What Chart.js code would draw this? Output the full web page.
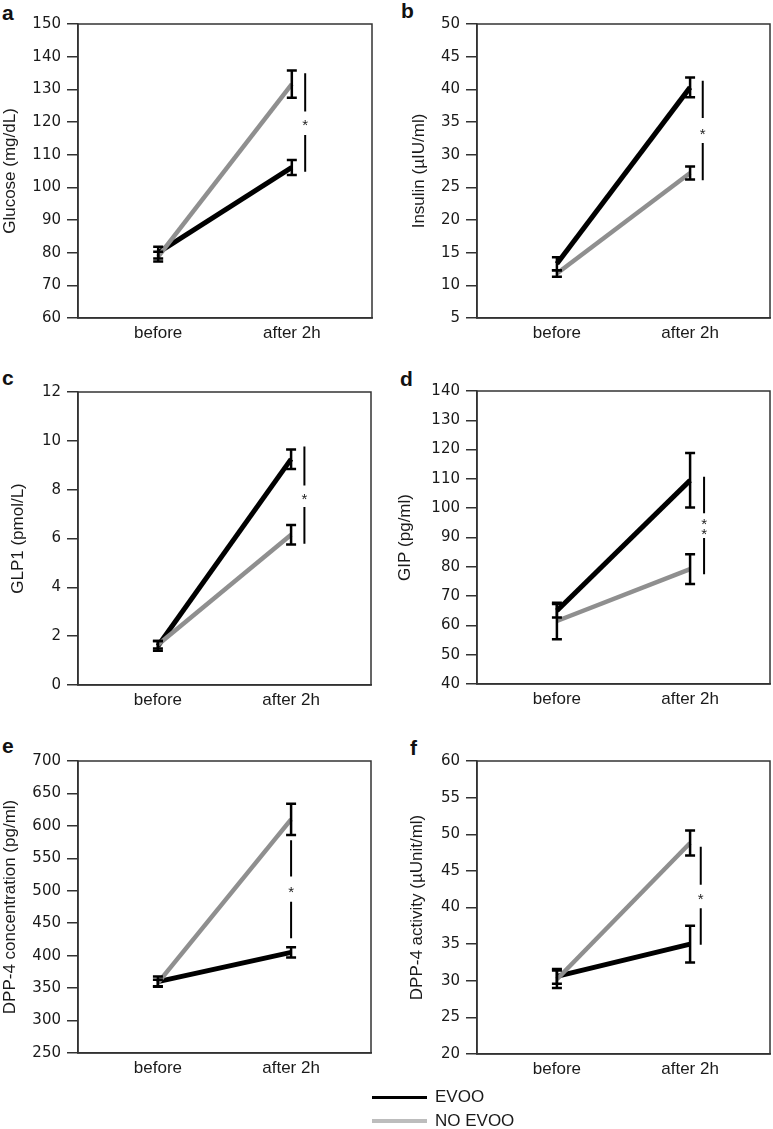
<!DOCTYPE html>
<html>
<head>
<meta charset="utf-8">
<title>EVOO panels</title>
<script src="https://cdn.jsdelivr.net/npm/chart.js@4.4.1/dist/chart.umd.min.js"></script>
<style>
  html, body { margin: 0; padding: 0; background: #fff; }
  body { width: 773px; height: 1129px; position: relative; overflow: hidden; }
  canvas { position: absolute; }
  .letter { position: absolute; font: bold 21px "Liberation Sans", Arial, sans-serif; color: #111; line-height: 21px; }
  .legend { position: absolute; left: 372px; top: 1085px; font: 17px "Liberation Sans", Arial, sans-serif; color: #1a1a1a; }
  .legend div { position: relative; height: 24px; line-height: 24px; padding-left: 63px; }
  .legend span { position: absolute; left: 0; width: 55px; }
</style>
</head>
<body>
<div class="letter" style="left:2px;top:2px">a</div>
<div class="letter" style="left:401px;top:0px">b</div>
<div class="letter" style="left:2px;top:367px">c</div>
<div class="letter" style="left:400px;top:368px">d</div>
<div class="letter" style="left:2px;top:735px">e</div>
<div class="letter" style="left:410px;top:737px">f</div>

<canvas id="chartA" width="385" height="350" style="left:0;top:0"></canvas>
<canvas id="chartB" width="383" height="350" style="left:390px;top:0"></canvas>
<canvas id="chartC" width="385" height="357" style="left:0;top:360px"></canvas>
<canvas id="chartD" width="383" height="357" style="left:390px;top:360px"></canvas>
<canvas id="chartE" width="385" height="366" style="left:0;top:720px"></canvas>
<canvas id="chartF" width="383" height="366" style="left:390px;top:720px"></canvas>

<div class="legend">
  <div><span style="top:11px;height:3px;background:#000"></span>EVOO</div>
  <div><span style="top:10px;height:4px;background:#bdbdbd"></span>NO EVOO</div>
</div>

<script>
const timepoints = ['before', 'after 2h'];

// a: glucose
const glucoseEvoo = [80.0, 106.1];
const glucoseEvooErr = [1.8, 2.3];
const glucoseNoEvoo = [78.8, 131.6];
const glucoseNoEvooErr = [1.5, 4.2];
const glucoseSig = [134.9, 123.2, 116.0, 104.8]; // top, gap top, gap bottom, bottom
const glucoseStars = [120.1];

// b: insulin
const insulinEvoo = [13.3, 40.3];
const insulinEvooErr = [1.0, 1.5];
const insulinNoEvoo = [11.8, 27.2];
const insulinNoEvooErr = [0.5, 1.0];
const insulinSig = [41.3, 35.6, 31.8, 26.1];
const insulinStars = [33.7];

// c: GLP1
const glp1Evoo = [1.6, 9.25];
const glp1EvooErr = [0.2, 0.4];
const glp1NoEvoo = [1.65, 6.15];
const glp1NoEvooErr = [0.15, 0.4];
const glp1Sig = [9.77, 8.17, 7.29, 5.79];
const glp1Stars = [7.77];

// d: GIP
const gipEvoo = [65.0, 109.5];
const gipEvooErr = [2.3, 9.3];
const gipNoEvoo = [61.5, 79.2];
const gipNoEvooErr = [6.2, 5.1];
const gipSig = [110.7, 98.3, 89.8, 77.5];
const gipStars = [95.7, 92.4];

// e: DPP-4 concentration
const dppConcEvoo = [360, 405];
const dppConcEvooErr = [8, 8];
const dppConcNoEvoo = [358, 610];
const dppConcNoEvooErr = [5, 24];
const dppConcSig = [578, 522, 483, 427];
const dppConcStars = [503];

// f: DPP-4 activity
const dppActEvoo = [30.6, 35.0];
const dppActEvooErr = [1.0, 2.5];
const dppActNoEvoo = [30.2, 48.8];
const dppActNoEvooErr = [1.2, 1.7];
const dppActSig = [48.3, 43.1, 39.9, 34.9];
const dppActStars = [41.6];

// y axis ranges [min, max, step]
const glucoseAxis = [60, 150, 10];
const insulinAxis = [5, 50, 5];
const glp1Axis = [0, 12, 2];
const gipAxis = [40, 140, 10];
const dppConcAxis = [250, 700, 50];
const dppActAxis = [20, 60, 5];

const panels = [
  { id: 'chartA', title: 'Glucose (mg/dL)', axis: glucoseAxis,
    evoo: glucoseEvoo, evooErr: glucoseEvooErr, noEvoo: glucoseNoEvoo, noEvooErr: glucoseNoEvooErr,
    sig: glucoseSig, stars: glucoseStars, sigX: 1.10,
    titleX: 10, plotLeft: 78, plotRight: 372, plotTop: 24, plotBottom: 318 },
  { id: 'chartB', title: 'Insulin (\u00b5IU/ml)', axis: insulinAxis,
    evoo: insulinEvoo, evooErr: insulinEvooErr, noEvoo: insulinNoEvoo, noEvooErr: insulinNoEvooErr,
    sig: insulinSig, stars: insulinStars, sigX: 1.095,
    titleX: 29, plotLeft: 87, plotRight: 380, plotTop: 24, plotBottom: 318 },
  { id: 'chartC', title: 'GLP1 (pmol/L)', axis: glp1Axis,
    evoo: glp1Evoo, evooErr: glp1EvooErr, noEvoo: glp1NoEvoo, noEvooErr: glp1NoEvooErr,
    sig: glp1Sig, stars: glp1Stars, sigX: 1.10,
    titleX: 18, plotLeft: 78, plotRight: 371, plotTop: 32, plotBottom: 325 },
  { id: 'chartD', title: 'GIP (pg/ml)', axis: gipAxis,
    evoo: gipEvoo, evooErr: gipEvooErr, noEvoo: gipNoEvoo, noEvooErr: gipNoEvooErr,
    sig: gipSig, stars: gipStars, sigX: 1.105,
    titleX: 15.5, plotLeft: 87, plotRight: 380, plotTop: 31, plotBottom: 324 },
  { id: 'chartE', title: 'DPP-4 concentration (pg/ml)', axis: dppConcAxis,
    evoo: dppConcEvoo, evooErr: dppConcEvooErr, noEvoo: dppConcNoEvoo, noEvooErr: dppConcNoEvooErr,
    sig: dppConcSig, stars: dppConcStars, sigX: 1.0,
    titleX: 9, plotLeft: 78, plotRight: 371, plotTop: 41, plotBottom: 333 },
  { id: 'chartF', title: 'DPP-4 activity (\u00b5Unit/ml)', axis: dppActAxis,
    evoo: dppActEvoo, evooErr: dppActEvooErr, noEvoo: dppActNoEvoo, noEvooErr: dppActNoEvooErr,
    sig: dppActSig, stars: dppActStars, sigX: 1.08,
    titleX: 27.5, plotLeft: 87, plotRight: 380, plotTop: 41, plotBottom: 334 }
];

const AXIS_COLOR = '#333';
const TITLE_FONT = 17;
const X_AXIS_H = 32;

// frame, error bars and significance brackets
const decorPlugin = {
  id: 'decor',
  afterDatasetsDraw(chart, args, opts) {
    const { ctx, chartArea, scales: { x, y } } = chart;
    ctx.save();
    ctx.strokeStyle = AXIS_COLOR;
    ctx.lineWidth = 1.5;
    ctx.strokeRect(chartArea.left, chartArea.top, chartArea.right - chartArea.left, chartArea.bottom - chartArea.top);

    ctx.strokeStyle = '#000';
    ctx.lineWidth = 2.5;
    opts.bars.forEach(b => {
      b.mean.forEach((m, i) => {
        const px = x.getPixelForValue(i);
        const top = y.getPixelForValue(m + b.err[i]);
        const bot = y.getPixelForValue(m - b.err[i]);
        ctx.beginPath();
        ctx.moveTo(px, top); ctx.lineTo(px, bot);
        ctx.moveTo(px - 5, top); ctx.lineTo(px + 5, top);
        ctx.moveTo(px - 5, bot); ctx.lineTo(px + 5, bot);
        ctx.stroke();
      });
    });

    const sx = x.getPixelForValue(opts.sigX);
    const s = opts.sig.map(v => y.getPixelForValue(v));
    ctx.lineWidth = 2;
    ctx.beginPath();
    ctx.moveTo(sx, s[0]); ctx.lineTo(sx, s[1]);
    ctx.moveTo(sx, s[2]); ctx.lineTo(sx, s[3]);
    ctx.stroke();

    ctx.fillStyle = '#222';
    ctx.font = '15px "Liberation Sans", Arial, sans-serif';
    ctx.textAlign = 'center';
    ctx.textBaseline = 'alphabetic';
    opts.stars.forEach(v => ctx.fillText('*', sx, y.getPixelForValue(v) + 8.5));
    ctx.restore();
  }
};

panels.forEach(p => {
  const canvas = document.getElementById(p.id);
  const padLeft = Math.max(p.titleX - TITLE_FONT * 0.6, 0);
  const padRight = canvas.width - p.plotRight;
  const padBottom = canvas.height - p.plotBottom - X_AXIS_H;

  new Chart(canvas.getContext('2d'), {
    type: 'line',
    data: {
      datasets: [
        {
          label: 'EVOO',
          data: p.evoo.map((v, i) => ({ x: i, y: v })),
          borderColor: '#000',
          borderWidth: 5,
          pointRadius: 0,
          order: 2
        },
        {
          label: 'NO EVOO',
          data: p.noEvoo.map((v, i) => ({ x: i, y: v })),
          borderColor: '#8f8f8f',
          borderWidth: 4.5,
          pointRadius: 0,
          order: 1
        }
      ]
    },
    options: {
      responsive: false,
      animation: false,
      devicePixelRatio: 1,
      layout: { padding: { left: padLeft, right: padRight, top: p.plotTop, bottom: padBottom } },
      plugins: {
        legend: { display: false },
        tooltip: { enabled: false },
        decor: {
          bars: [
            { mean: p.evoo, err: p.evooErr },
            { mean: p.noEvoo, err: p.noEvooErr }
          ],
          sig: p.sig,
          stars: p.stars,
          sigX: p.sigX
        }
      },
      scales: {
        x: {
          type: 'linear',
          min: -0.6,
          max: 1.6,
          afterBuildTicks: s => { s.ticks = timepoints.map((_, i) => ({ value: i })); },
          afterFit: s => { s.height = X_AXIS_H; },
          ticks: {
            callback: v => timepoints[v],
            font: { family: 'Liberation Sans', size: 17 },
            color: '#1a1a1a',
            padding: 5,
            maxRotation: 0,
            autoSkip: false
          },
          grid: { display: false, drawTicks: false },
          border: { display: true, color: AXIS_COLOR, width: 1.5 }
        },
        y: {
          min: p.axis[0],
          max: p.axis[1],
          afterFit: s => { s.width = p.plotLeft - padLeft; },
          title: {
            display: true,
            text: p.title,
            font: { family: 'Liberation Sans', size: TITLE_FONT },
            color: '#1a1a1a',
            padding: { top: 0, bottom: 0 }
          },
          ticks: {
            stepSize: p.axis[2],
            font: { family: 'DejaVu Sans', size: 15 },
            color: '#1a1a1a',
            padding: 6
          },
          grid: { drawOnChartArea: false, drawTicks: true, tickLength: 11, color: AXIS_COLOR, lineWidth: 1.5 },
          border: { color: AXIS_COLOR, width: 1.5 }
        }
      }
    },
    plugins: [decorPlugin]
  });
});
</script>
</body>
</html>
